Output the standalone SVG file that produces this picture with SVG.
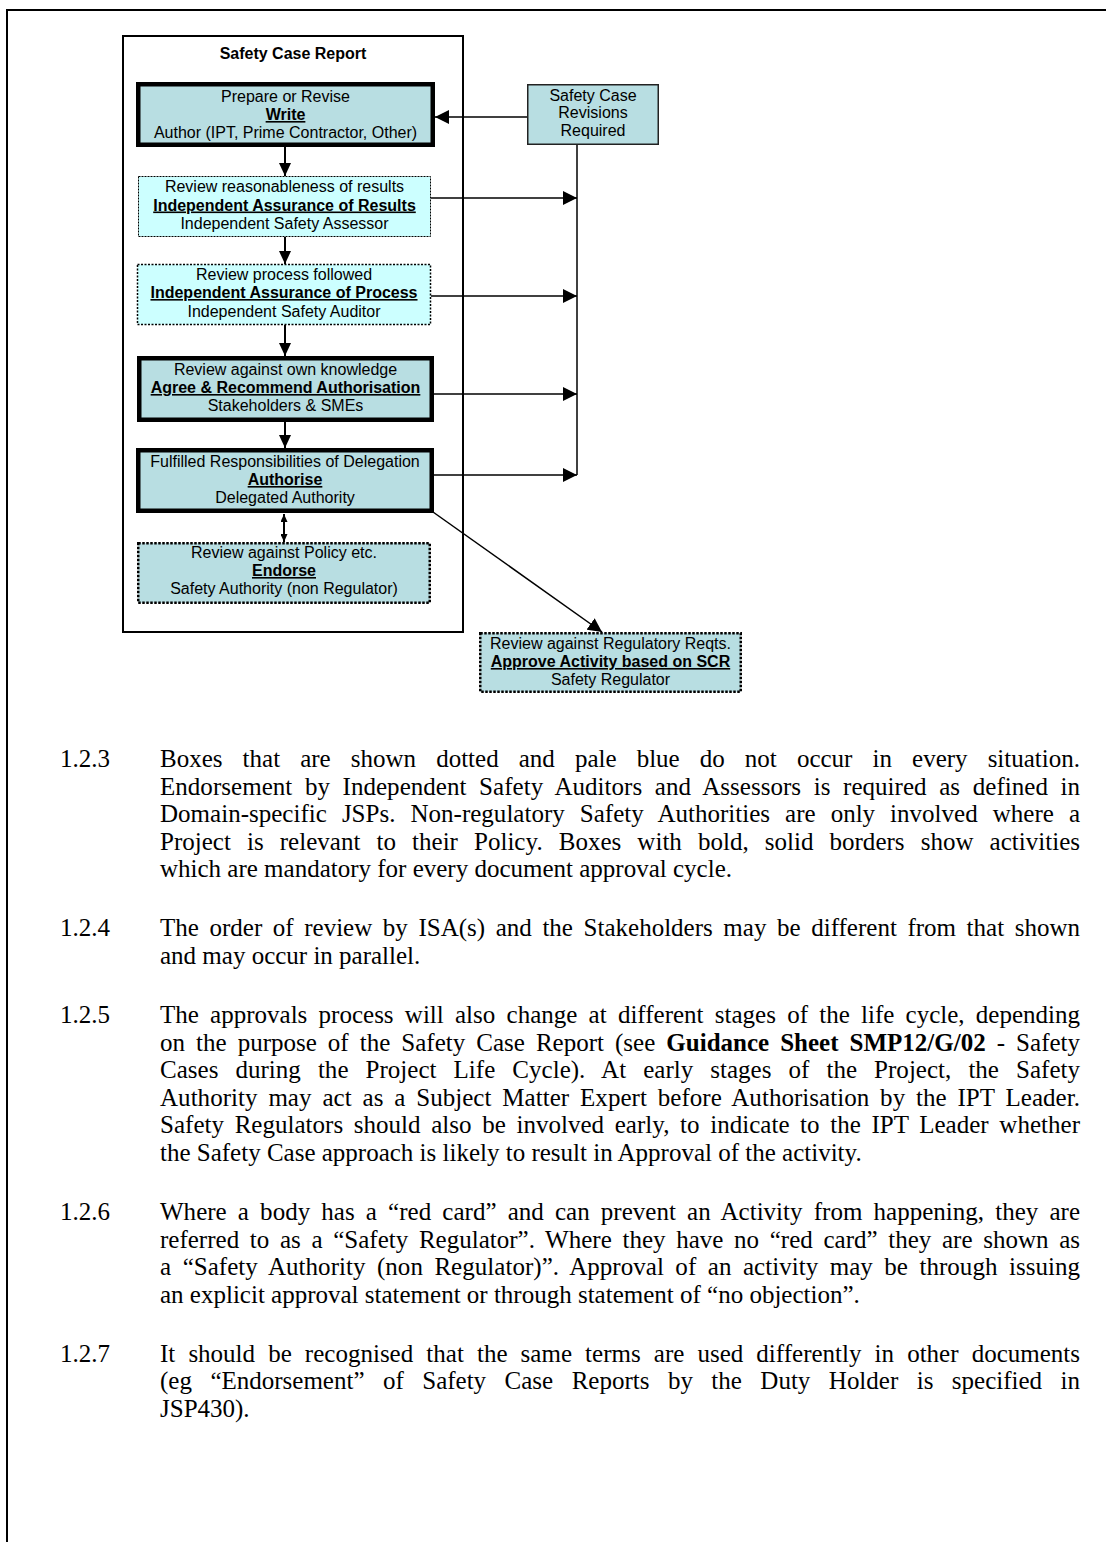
<svg xmlns="http://www.w3.org/2000/svg" width="1106" height="1542" viewBox="0 0 1106 1542">
<style>
.bx text{font-family:'Liberation Sans',Arial,sans-serif;font-size:16px;text-anchor:middle;fill:#000}
.bx .u{font-weight:bold;text-decoration:underline}
.ttl{font-family:'Liberation Sans',Arial,sans-serif;font-size:16px;font-weight:bold;text-anchor:middle}
.solid{fill:#B8DEE2;stroke:#000;stroke-width:4.5}
.pale{fill:#CCFFFF;stroke:#000;stroke-width:1;stroke-dasharray:2 1}
.pale2{fill:#CCFFFF;stroke:#000;stroke-width:1.5;stroke-dasharray:2 1.5}
.dot{fill:#B8DEE2;stroke:#000;stroke-width:2.5;stroke-dasharray:2.5 1.5}
.plain{fill:#B8DEE2;stroke:#222;stroke-width:1.5}
.frame{fill:none;stroke:#000;stroke-width:2}
.c{fill:none;stroke:#000}
.body{font-family:'Liberation Serif','Times New Roman',serif;font-size:25px;fill:#000}
</style>
<defs>
<marker id="ah" markerUnits="userSpaceOnUse" markerWidth="13" markerHeight="12" refX="13" refY="6" orient="auto"><path d="M0,0 L13,6 L0,12 z" fill="#000"/></marker>
<marker id="ar" markerUnits="userSpaceOnUse" markerWidth="14" markerHeight="14" refX="14" refY="7" orient="auto"><path d="M0,0 L14,7 L0,14 z" fill="#000"/></marker>
<marker id="as" markerUnits="userSpaceOnUse" markerWidth="8" markerHeight="7" refX="8" refY="3.5" orient="auto-start-reverse"><path d="M0,0 L8,3.5 L0,7 z" fill="#000"/></marker>
</defs>
<rect width="1106" height="1542" fill="#fff"/>
<path class="frame" d="M7,1542 V10 H1106"/>

<g id="container">
<rect class="frame" x="123" y="36" width="340" height="596"/>
<text class="ttl" x="293" y="59">Safety Case Report</text>
</g>

<g id="write" class="bx">
<rect class="solid" x="138.25" y="84.25" width="294.5" height="60.5"/>
<text x="285.5" y="102">Prepare or Revise</text>
<text class="u" x="285.5" y="120">Write</text>
<text x="285.5" y="138">Author (IPT, Prime Contractor, Other)</text>
</g>

<g id="isa-results" class="bx">
<rect class="pale" x="138.5" y="176.5" width="292" height="60"/>
<text x="284.5" y="192">Review reasonableness of results</text>
<text class="u" x="284.5" y="210.5">Independent Assurance of Results</text>
<text x="284.5" y="229">Independent Safety Assessor</text>
</g>

<g id="isa-process" class="bx">
<rect class="pale2" x="137.5" y="264.5" width="293" height="60"/>
<text x="284" y="280">Review process followed</text>
<text class="u" x="284" y="298">Independent Assurance of Process</text>
<text x="284" y="316.5">Independent Safety Auditor</text>
</g>

<g id="agree" class="bx">
<rect class="solid" x="139.25" y="358.25" width="292.5" height="61.5"/>
<text x="285.5" y="375">Review against own knowledge</text>
<text class="u" x="285.5" y="393">Agree &amp; Recommend Authorisation</text>
<text x="285.5" y="411">Stakeholders &amp; SMEs</text>
</g>

<g id="authorise" class="bx">
<rect class="solid" x="138.25" y="450.25" width="293.5" height="60.5"/>
<text x="285" y="467">Fulfilled Responsibilities of Delegation</text>
<text class="u" x="285" y="485">Authorise</text>
<text x="285" y="503">Delegated Authority</text>
</g>

<g id="endorse" class="bx">
<rect class="dot" x="138.25" y="543.25" width="291.5" height="59.5"/>
<text x="284" y="557.5">Review against Policy etc.</text>
<text class="u" x="284" y="576">Endorse</text>
<text x="284" y="593.5">Safety Authority (non Regulator)</text>
</g>

<g id="revisions" class="bx">
<rect class="plain" x="527.75" y="84.75" width="130.5" height="59.5"/>
<text x="593" y="101">Safety Case</text>
<text x="593" y="118">Revisions</text>
<text x="593" y="136">Required</text>
</g>

<g id="regulator" class="bx">
<rect class="dot" x="480.25" y="633.25" width="260.5" height="58.5"/>
<text x="610.5" y="648.5">Review against Regulatory Reqts.</text>
<text class="u" x="610.5" y="667">Approve Activity based on SCR</text>
<text x="610.5" y="684.5">Safety Regulator</text>
</g>

<g id="connectors">
<line class="c" stroke-width="1.5" x1="527" y1="117" x2="435" y2="117" marker-end="url(#ar)"/>
<line class="c" stroke-width="2" x1="285" y1="147" x2="285" y2="176" marker-end="url(#ah)"/>
<line class="c" stroke-width="2" x1="285" y1="237" x2="285" y2="264" marker-end="url(#ah)"/>
<line class="c" stroke-width="2" x1="285" y1="325" x2="285" y2="356" marker-end="url(#ah)"/>
<line class="c" stroke-width="2" x1="285" y1="422" x2="285" y2="448" marker-end="url(#ah)"/>
<line class="c" stroke-width="2" x1="284" y1="514" x2="284" y2="542" marker-start="url(#as)" marker-end="url(#as)"/>
<line class="c" stroke-width="1.5" x1="577" y1="145" x2="577" y2="475"/>
<line class="c" stroke-width="1.5" x1="431" y1="198" x2="577" y2="198" marker-end="url(#ar)"/>
<line class="c" stroke-width="1.5" x1="431" y1="296" x2="577" y2="296" marker-end="url(#ar)"/>
<line class="c" stroke-width="1.5" x1="434" y1="394" x2="577" y2="394" marker-end="url(#ar)"/>
<line class="c" stroke-width="1.5" x1="434" y1="475" x2="577" y2="475" marker-end="url(#ar)"/>
<line class="c" stroke-width="1.5" x1="433" y1="512" x2="602" y2="632" marker-end="url(#ar)"/>
</g>

<g id="text-body" class="body">
<text x="60" y="767">1.2.3</text>
<text x="160" y="767" word-spacing="13.83" textLength="920" lengthAdjust="spacing">Boxes that are shown dotted and pale blue do not occur in every situation.</text>
<text x="160" y="794.6" word-spacing="6.31" textLength="920" lengthAdjust="spacing">Endorsement by Independent Safety Auditors and Assessors is required as defined in</text>
<text x="160" y="822.2" word-spacing="8.72" textLength="920" lengthAdjust="spacing">Domain-specific JSPs. Non-regulatory Safety Authorities are only involved where a</text>
<text x="160" y="849.8" word-spacing="9.77" textLength="920" lengthAdjust="spacing">Project is relevant to their Policy. Boxes with bold, solid borders show activities</text>
<text x="160" y="877.4">which are mandatory for every document approval cycle.</text>

<text x="60" y="936.4">1.2.4</text>
<text x="160" y="936.4" word-spacing="4.32" textLength="920" lengthAdjust="spacing">The order of review by ISA(s) and the Stakeholders may be different from that shown</text>
<text x="160" y="964">and may occur in parallel.</text>

<text x="60" y="1023">1.2.5</text>
<text x="160" y="1023" word-spacing="4.97" textLength="920" lengthAdjust="spacing">The approvals process will also change at different stages of the life cycle, depending</text>
<text x="160" y="1050.6" word-spacing="4.8" textLength="920" lengthAdjust="spacing">on the purpose of the Safety Case Report (see <tspan font-weight="bold">Guidance Sheet SMP12/G/02</tspan> - Safety</text>
<text x="160" y="1078.2" word-spacing="10.79" textLength="920" lengthAdjust="spacing">Cases during the Project Life Cycle). At early stages of the Project, the Safety</text>
<text x="160" y="1105.8" word-spacing="4.54" textLength="920" lengthAdjust="spacing">Authority may act as a Subject Matter Expert before Authorisation by the IPT Leader.</text>
<text x="160" y="1133.4" word-spacing="4.32" textLength="920" lengthAdjust="spacing">Safety Regulators should also be involved early, to indicate to the IPT Leader whether</text>
<text x="160" y="1161">the Safety Case approach is likely to result in Approval of the activity.</text>

<text x="60" y="1220">1.2.6</text>
<text x="160" y="1220" word-spacing="4.87" textLength="920" lengthAdjust="spacing">Where a body has a “red card” and can prevent an Activity from happening, they are</text>
<text x="160" y="1247.6" word-spacing="4.41" textLength="920" lengthAdjust="spacing">referred to as a “Safety Regulator”. Where they have no “red card” they are shown as</text>
<text x="160" y="1275.2" word-spacing="5.21" textLength="920" lengthAdjust="spacing">a “Safety Authority (non Regulator)”. Approval of an activity may be through issuing</text>
<text x="160" y="1302.8">an explicit approval statement or through statement of “no objection”.</text>

<text x="60" y="1361.8">1.2.7</text>
<text x="160" y="1361.8" word-spacing="6.84" textLength="920" lengthAdjust="spacing">It should be recognised that the same terms are used differently in other documents</text>
<text x="160" y="1389.4" word-spacing="12.21" textLength="920" lengthAdjust="spacing">(eg “Endorsement” of Safety Case Reports by the Duty Holder is specified in</text>
<text x="160" y="1417">JSP430).</text>
</g>
</svg>
